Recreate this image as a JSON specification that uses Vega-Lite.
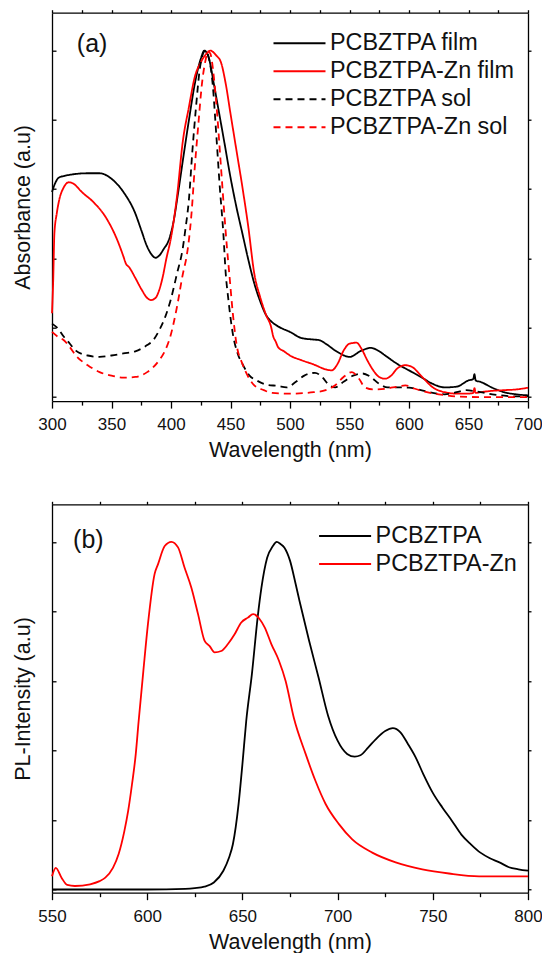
{
  "$schema": "https://vega.github.io/schema/vega-lite/v6.json",
  "autosize": {"type": "pad"},
  "padding": {"left": 12, "top": 8.7, "right": 0, "bottom": 0},
  "background": "white",
  "spacing": 102.6,
  "bounds": "flush",
  "resolve": {
    "scale": {"color": "independent", "strokeDash": "independent", "x": "independent", "y": "independent"},
    "legend": {"color": "independent", "strokeDash": "independent"}
  },
  "config": {
    "font": "Liberation Sans",
    "view": {"stroke": null},
    "axis": {
      "grid": false,
      "domainColor": "#000000",
      "domainWidth": 1.3,
      "tickColor": "#000000",
      "tickWidth": 1.3,
      "labelColor": "#111111",
      "titleColor": "#111111",
      "labelFont": "Liberation Sans",
      "titleFont": "Liberation Sans",
      "labelFontSize": 17,
      "titleFontSize": 21.5,
      "titleFontWeight": "normal",
      "labelFlush": false,
      "labelOverlap": false
    },
    "legend": {
      "labelFont": "Liberation Sans",
      "labelFontSize": 23.4,
      "labelColor": "#111111",
      "labelLimit": 400,
      "padding": 0,
      "rowPadding": 2,
      "labelOffset": 16.5,
      "symbolType": "M-2,0H2",
      "symbolSize": 676,
      "symbolStrokeWidth": 1.9,
      "symbolFillColor": "transparent",
      "title": null
    }
  },
  "datasets": {
    "abs": [
      {"s": "PCBZTPA film", "x": 300, "y": 2.96}, {"s": "PCBZTPA film", "x": 303, "y": 3.10}, {"s": "PCBZTPA film", "x": 306, "y": 3.17}, {"s": "PCBZTPA film", "x": 310, "y": 3.19},
      {"s": "PCBZTPA film", "x": 320, "y": 3.22}, {"s": "PCBZTPA film", "x": 330, "y": 3.23}, {"s": "PCBZTPA film", "x": 340, "y": 3.23}, {"s": "PCBZTPA film", "x": 350, "y": 3.15},
      {"s": "PCBZTPA film", "x": 360, "y": 2.96}, {"s": "PCBZTPA film", "x": 370, "y": 2.65}, {"s": "PCBZTPA film", "x": 375, "y": 2.41}, {"s": "PCBZTPA film", "x": 380, "y": 2.17},
      {"s": "PCBZTPA film", "x": 384, "y": 2.05}, {"s": "PCBZTPA film", "x": 387, "y": 2.01}, {"s": "PCBZTPA film", "x": 390, "y": 2.04}, {"s": "PCBZTPA film", "x": 394, "y": 2.14},
      {"s": "PCBZTPA film", "x": 398, "y": 2.26}, {"s": "PCBZTPA film", "x": 402, "y": 2.52}, {"s": "PCBZTPA film", "x": 406, "y": 2.95}, {"s": "PCBZTPA film", "x": 410, "y": 3.42}, {"s": "PCBZTPA film", "x": 415, "y": 3.99},
      {"s": "PCBZTPA film", "x": 420, "y": 4.52}, {"s": "PCBZTPA film", "x": 425, "y": 4.88}, {"s": "PCBZTPA film", "x": 428, "y": 5.0}, {"s": "PCBZTPA film", "x": 432, "y": 4.88},
      {"s": "PCBZTPA film", "x": 436, "y": 4.52}, {"s": "PCBZTPA film", "x": 440, "y": 4.14}, {"s": "PCBZTPA film", "x": 445, "y": 3.66}, {"s": "PCBZTPA film", "x": 450, "y": 3.17},
      {"s": "PCBZTPA film", "x": 455, "y": 2.74}, {"s": "PCBZTPA film", "x": 460, "y": 2.36}, {"s": "PCBZTPA film", "x": 465, "y": 1.98}, {"s": "PCBZTPA film", "x": 470, "y": 1.64},
      {"s": "PCBZTPA film", "x": 475, "y": 1.38}, {"s": "PCBZTPA film", "x": 480, "y": 1.18}, {"s": "PCBZTPA film", "x": 485, "y": 1.08}, {"s": "PCBZTPA film", "x": 490, "y": 1.02},
      {"s": "PCBZTPA film", "x": 500, "y": 0.94}, {"s": "PCBZTPA film", "x": 510, "y": 0.85}, {"s": "PCBZTPA film", "x": 520, "y": 0.83}, {"s": "PCBZTPA film", "x": 525, "y": 0.82},
      {"s": "PCBZTPA film", "x": 530, "y": 0.77}, {"s": "PCBZTPA film", "x": 540, "y": 0.65}, {"s": "PCBZTPA film", "x": 550, "y": 0.58}, {"s": "PCBZTPA film", "x": 560, "y": 0.67},
      {"s": "PCBZTPA film", "x": 568, "y": 0.71}, {"s": "PCBZTPA film", "x": 575, "y": 0.66}, {"s": "PCBZTPA film", "x": 580, "y": 0.60}, {"s": "PCBZTPA film", "x": 590, "y": 0.48},
      {"s": "PCBZTPA film", "x": 600, "y": 0.385}, {"s": "PCBZTPA film", "x": 610, "y": 0.29}, {"s": "PCBZTPA film", "x": 620, "y": 0.19}, {"s": "PCBZTPA film", "x": 630, "y": 0.14},
      {"s": "PCBZTPA film", "x": 640, "y": 0.15}, {"s": "PCBZTPA film", "x": 650, "y": 0.24}, {"s": "PCBZTPA film", "x": 654, "y": 0.26}, {"s": "PCBZTPA film", "x": 655, "y": 0.33},
      {"s": "PCBZTPA film", "x": 656, "y": 0.24}, {"s": "PCBZTPA film", "x": 660, "y": 0.22}, {"s": "PCBZTPA film", "x": 670, "y": 0.135}, {"s": "PCBZTPA film", "x": 680, "y": 0.07},
      {"s": "PCBZTPA film", "x": 690, "y": 0.04}, {"s": "PCBZTPA film", "x": 700, "y": 0.025},

      {"s": "PCBZTPA-Zn film", "x": 300, "y": 1.21}, {"s": "PCBZTPA-Zn film", "x": 301, "y": 1.68}, {"s": "PCBZTPA-Zn film", "x": 302, "y": 2.36}, {"s": "PCBZTPA-Zn film", "x": 304, "y": 2.65},
      {"s": "PCBZTPA-Zn film", "x": 306, "y": 2.84}, {"s": "PCBZTPA-Zn film", "x": 310, "y": 3.03}, {"s": "PCBZTPA-Zn film", "x": 314, "y": 3.10}, {"s": "PCBZTPA-Zn film", "x": 318, "y": 3.08},
      {"s": "PCBZTPA-Zn film", "x": 325, "y": 2.96}, {"s": "PCBZTPA-Zn film", "x": 335, "y": 2.81}, {"s": "PCBZTPA-Zn film", "x": 345, "y": 2.60}, {"s": "PCBZTPA-Zn film", "x": 355, "y": 2.26},
      {"s": "PCBZTPA-Zn film", "x": 360, "y": 2.03}, {"s": "PCBZTPA-Zn film", "x": 362, "y": 1.93}, {"s": "PCBZTPA-Zn film", "x": 365, "y": 1.87}, {"s": "PCBZTPA-Zn film", "x": 370, "y": 1.72},
      {"s": "PCBZTPA-Zn film", "x": 375, "y": 1.56}, {"s": "PCBZTPA-Zn film", "x": 380, "y": 1.43}, {"s": "PCBZTPA-Zn film", "x": 383, "y": 1.40}, {"s": "PCBZTPA-Zn film", "x": 387, "y": 1.43},
      {"s": "PCBZTPA-Zn film", "x": 390, "y": 1.54}, {"s": "PCBZTPA-Zn film", "x": 393, "y": 1.73}, {"s": "PCBZTPA-Zn film", "x": 396, "y": 1.99}, {"s": "PCBZTPA-Zn film", "x": 400, "y": 2.30},
      {"s": "PCBZTPA-Zn film", "x": 405, "y": 2.89}, {"s": "PCBZTPA-Zn film", "x": 410, "y": 3.70}, {"s": "PCBZTPA-Zn film", "x": 415, "y": 4.18}, {"s": "PCBZTPA-Zn film", "x": 420, "y": 4.62},
      {"s": "PCBZTPA-Zn film", "x": 425, "y": 4.83}, {"s": "PCBZTPA-Zn film", "x": 430, "y": 4.96}, {"s": "PCBZTPA-Zn film", "x": 433, "y": 5.0}, {"s": "PCBZTPA-Zn film", "x": 438, "y": 4.93},
      {"s": "PCBZTPA-Zn film", "x": 442, "y": 4.83}, {"s": "PCBZTPA-Zn film", "x": 446, "y": 4.52}, {"s": "PCBZTPA-Zn film", "x": 450, "y": 4.09}, {"s": "PCBZTPA-Zn film", "x": 455, "y": 3.56},
      {"s": "PCBZTPA-Zn film", "x": 460, "y": 3.03}, {"s": "PCBZTPA-Zn film", "x": 465, "y": 2.45}, {"s": "PCBZTPA-Zn film", "x": 470, "y": 1.78}, {"s": "PCBZTPA-Zn film", "x": 475, "y": 1.44},
      {"s": "PCBZTPA-Zn film", "x": 480, "y": 1.18}, {"s": "PCBZTPA-Zn film", "x": 484, "y": 1.02}, {"s": "PCBZTPA-Zn film", "x": 486, "y": 0.87}, {"s": "PCBZTPA-Zn film", "x": 488, "y": 0.80},
      {"s": "PCBZTPA-Zn film", "x": 490, "y": 0.72}, {"s": "PCBZTPA-Zn film", "x": 495, "y": 0.66}, {"s": "PCBZTPA-Zn film", "x": 500, "y": 0.60}, {"s": "PCBZTPA-Zn film", "x": 510, "y": 0.53},
      {"s": "PCBZTPA-Zn film", "x": 520, "y": 0.47}, {"s": "PCBZTPA-Zn film", "x": 530, "y": 0.40}, {"s": "PCBZTPA-Zn film", "x": 535, "y": 0.385}, {"s": "PCBZTPA-Zn film", "x": 540, "y": 0.48},
      {"s": "PCBZTPA-Zn film", "x": 545, "y": 0.67}, {"s": "PCBZTPA-Zn film", "x": 550, "y": 0.77}, {"s": "PCBZTPA-Zn film", "x": 556, "y": 0.785}, {"s": "PCBZTPA-Zn film", "x": 560, "y": 0.70},
      {"s": "PCBZTPA-Zn film", "x": 565, "y": 0.53}, {"s": "PCBZTPA-Zn film", "x": 570, "y": 0.385}, {"s": "PCBZTPA-Zn film", "x": 575, "y": 0.29}, {"s": "PCBZTPA-Zn film", "x": 580, "y": 0.265},
      {"s": "PCBZTPA-Zn film", "x": 585, "y": 0.31}, {"s": "PCBZTPA-Zn film", "x": 590, "y": 0.41}, {"s": "PCBZTPA-Zn film", "x": 597, "y": 0.46}, {"s": "PCBZTPA-Zn film", "x": 603, "y": 0.43},
      {"s": "PCBZTPA-Zn film", "x": 610, "y": 0.31}, {"s": "PCBZTPA-Zn film", "x": 620, "y": 0.14}, {"s": "PCBZTPA-Zn film", "x": 630, "y": 0.07}, {"s": "PCBZTPA-Zn film", "x": 640, "y": 0.05},
      {"s": "PCBZTPA-Zn film", "x": 650, "y": 0.05}, {"s": "PCBZTPA-Zn film", "x": 654, "y": 0.06}, {"s": "PCBZTPA-Zn film", "x": 655, "y": 0.13}, {"s": "PCBZTPA-Zn film", "x": 656, "y": 0.06},
      {"s": "PCBZTPA-Zn film", "x": 660, "y": 0.07}, {"s": "PCBZTPA-Zn film", "x": 670, "y": 0.09}, {"s": "PCBZTPA-Zn film", "x": 680, "y": 0.10}, {"s": "PCBZTPA-Zn film", "x": 690, "y": 0.11},
      {"s": "PCBZTPA-Zn film", "x": 700, "y": 0.135},

      {"s": "PCBZTPA sol", "x": 300, "y": 1.06}, {"s": "PCBZTPA sol", "x": 305, "y": 0.99}, {"s": "PCBZTPA sol", "x": 310, "y": 0.87}, {"s": "PCBZTPA sol", "x": 315, "y": 0.77},
      {"s": "PCBZTPA sol", "x": 320, "y": 0.67}, {"s": "PCBZTPA sol", "x": 330, "y": 0.60}, {"s": "PCBZTPA sol", "x": 340, "y": 0.58}, {"s": "PCBZTPA sol", "x": 350, "y": 0.60},
      {"s": "PCBZTPA sol", "x": 360, "y": 0.63}, {"s": "PCBZTPA sol", "x": 370, "y": 0.66}, {"s": "PCBZTPA sol", "x": 380, "y": 0.75}, {"s": "PCBZTPA sol", "x": 385, "y": 0.82},
      {"s": "PCBZTPA sol", "x": 390, "y": 0.96}, {"s": "PCBZTPA sol", "x": 395, "y": 1.15}, {"s": "PCBZTPA sol", "x": 400, "y": 1.42}, {"s": "PCBZTPA sol", "x": 405, "y": 1.78},
      {"s": "PCBZTPA sol", "x": 410, "y": 2.16}, {"s": "PCBZTPA sol", "x": 412, "y": 2.41}, {"s": "PCBZTPA sol", "x": 415, "y": 2.84}, {"s": "PCBZTPA sol", "x": 418, "y": 3.56},
      {"s": "PCBZTPA sol", "x": 421, "y": 4.18}, {"s": "PCBZTPA sol", "x": 424, "y": 4.71}, {"s": "PCBZTPA sol", "x": 427, "y": 4.96}, {"s": "PCBZTPA sol", "x": 429, "y": 5.0},
      {"s": "PCBZTPA sol", "x": 432, "y": 4.88}, {"s": "PCBZTPA sol", "x": 435, "y": 4.52}, {"s": "PCBZTPA sol", "x": 438, "y": 3.80}, {"s": "PCBZTPA sol", "x": 441, "y": 3.03},
      {"s": "PCBZTPA sol", "x": 444, "y": 2.36}, {"s": "PCBZTPA sol", "x": 446, "y": 1.78}, {"s": "PCBZTPA sol", "x": 448, "y": 1.44}, {"s": "PCBZTPA sol", "x": 452, "y": 0.91},
      {"s": "PCBZTPA sol", "x": 456, "y": 0.63}, {"s": "PCBZTPA sol", "x": 460, "y": 0.48}, {"s": "PCBZTPA sol", "x": 466, "y": 0.31}, {"s": "PCBZTPA sol", "x": 472, "y": 0.24},
      {"s": "PCBZTPA sol", "x": 480, "y": 0.18}, {"s": "PCBZTPA sol", "x": 490, "y": 0.16}, {"s": "PCBZTPA sol", "x": 497, "y": 0.14}, {"s": "PCBZTPA sol", "x": 505, "y": 0.22},
      {"s": "PCBZTPA sol", "x": 512, "y": 0.31}, {"s": "PCBZTPA sol", "x": 521, "y": 0.35}, {"s": "PCBZTPA sol", "x": 527, "y": 0.29}, {"s": "PCBZTPA sol", "x": 533, "y": 0.17},
      {"s": "PCBZTPA sol", "x": 538, "y": 0.14}, {"s": "PCBZTPA sol", "x": 545, "y": 0.22}, {"s": "PCBZTPA sol", "x": 553, "y": 0.31}, {"s": "PCBZTPA sol", "x": 561, "y": 0.34},
      {"s": "PCBZTPA sol", "x": 567, "y": 0.30}, {"s": "PCBZTPA sol", "x": 575, "y": 0.19}, {"s": "PCBZTPA sol", "x": 582, "y": 0.14}, {"s": "PCBZTPA sol", "x": 590, "y": 0.14},
      {"s": "PCBZTPA sol", "x": 600, "y": 0.135}, {"s": "PCBZTPA sol", "x": 610, "y": 0.10}, {"s": "PCBZTPA sol", "x": 620, "y": 0.06}, {"s": "PCBZTPA sol", "x": 630, "y": 0.04},
      {"s": "PCBZTPA sol", "x": 640, "y": 0.07}, {"s": "PCBZTPA sol", "x": 648, "y": 0.10}, {"s": "PCBZTPA sol", "x": 660, "y": 0.07}, {"s": "PCBZTPA sol", "x": 670, "y": 0.04},
      {"s": "PCBZTPA sol", "x": 680, "y": 0.02}, {"s": "PCBZTPA sol", "x": 690, "y": 0.01}, {"s": "PCBZTPA sol", "x": 700, "y": 0.01},

      {"s": "PCBZTPA-Zn sol", "x": 300, "y": 0.94}, {"s": "PCBZTPA-Zn sol", "x": 305, "y": 0.87}, {"s": "PCBZTPA-Zn sol", "x": 310, "y": 0.82}, {"s": "PCBZTPA-Zn sol", "x": 315, "y": 0.72},
      {"s": "PCBZTPA-Zn sol", "x": 320, "y": 0.60}, {"s": "PCBZTPA-Zn sol", "x": 330, "y": 0.46}, {"s": "PCBZTPA-Zn sol", "x": 340, "y": 0.36}, {"s": "PCBZTPA-Zn sol", "x": 350, "y": 0.31},
      {"s": "PCBZTPA-Zn sol", "x": 360, "y": 0.28}, {"s": "PCBZTPA-Zn sol", "x": 370, "y": 0.29}, {"s": "PCBZTPA-Zn sol", "x": 380, "y": 0.36}, {"s": "PCBZTPA-Zn sol", "x": 390, "y": 0.53},
      {"s": "PCBZTPA-Zn sol", "x": 395, "y": 0.67}, {"s": "PCBZTPA-Zn sol", "x": 400, "y": 0.91}, {"s": "PCBZTPA-Zn sol", "x": 405, "y": 1.30}, {"s": "PCBZTPA-Zn sol", "x": 410, "y": 1.78},
      {"s": "PCBZTPA-Zn sol", "x": 413, "y": 2.02}, {"s": "PCBZTPA-Zn sol", "x": 415, "y": 2.26}, {"s": "PCBZTPA-Zn sol", "x": 417, "y": 2.60}, {"s": "PCBZTPA-Zn sol", "x": 420, "y": 3.32},
      {"s": "PCBZTPA-Zn sol", "x": 423, "y": 3.94}, {"s": "PCBZTPA-Zn sol", "x": 426, "y": 4.52}, {"s": "PCBZTPA-Zn sol", "x": 429, "y": 4.86}, {"s": "PCBZTPA-Zn sol", "x": 431, "y": 4.99},
      {"s": "PCBZTPA-Zn sol", "x": 433, "y": 4.96}, {"s": "PCBZTPA-Zn sol", "x": 436, "y": 4.62}, {"s": "PCBZTPA-Zn sol", "x": 439, "y": 4.04}, {"s": "PCBZTPA-Zn sol", "x": 442, "y": 3.32},
      {"s": "PCBZTPA-Zn sol", "x": 445, "y": 2.60}, {"s": "PCBZTPA-Zn sol", "x": 447, "y": 2.16}, {"s": "PCBZTPA-Zn sol", "x": 449, "y": 1.78}, {"s": "PCBZTPA-Zn sol", "x": 452, "y": 1.20},
      {"s": "PCBZTPA-Zn sol", "x": 455, "y": 0.77}, {"s": "PCBZTPA-Zn sol", "x": 460, "y": 0.48}, {"s": "PCBZTPA-Zn sol", "x": 465, "y": 0.29}, {"s": "PCBZTPA-Zn sol", "x": 470, "y": 0.17},
      {"s": "PCBZTPA-Zn sol", "x": 478, "y": 0.10}, {"s": "PCBZTPA-Zn sol", "x": 485, "y": 0.06}, {"s": "PCBZTPA-Zn sol", "x": 500, "y": 0.05}, {"s": "PCBZTPA-Zn sol", "x": 520, "y": 0.07},
      {"s": "PCBZTPA-Zn sol", "x": 530, "y": 0.10}, {"s": "PCBZTPA-Zn sol", "x": 538, "y": 0.17}, {"s": "PCBZTPA-Zn sol", "x": 545, "y": 0.29}, {"s": "PCBZTPA-Zn sol", "x": 552, "y": 0.36},
      {"s": "PCBZTPA-Zn sol", "x": 558, "y": 0.265}, {"s": "PCBZTPA-Zn sol", "x": 563, "y": 0.14}, {"s": "PCBZTPA-Zn sol", "x": 570, "y": 0.11}, {"s": "PCBZTPA-Zn sol", "x": 580, "y": 0.12},
      {"s": "PCBZTPA-Zn sol", "x": 590, "y": 0.15}, {"s": "PCBZTPA-Zn sol", "x": 597, "y": 0.17}, {"s": "PCBZTPA-Zn sol", "x": 605, "y": 0.12}, {"s": "PCBZTPA-Zn sol", "x": 615, "y": 0.07},
      {"s": "PCBZTPA-Zn sol", "x": 625, "y": 0.04}, {"s": "PCBZTPA-Zn sol", "x": 640, "y": 0.01}, {"s": "PCBZTPA-Zn sol", "x": 660, "y": 0.0}, {"s": "PCBZTPA-Zn sol", "x": 700, "y": 0.0}
    ],
    "pl": [
      {"s": "PCBZTPA", "x": 550, "y": 0.0}, {"s": "PCBZTPA", "x": 600, "y": 0.0}, {"s": "PCBZTPA", "x": 620, "y": 0.01}, {"s": "PCBZTPA", "x": 625, "y": 0.02},
      {"s": "PCBZTPA", "x": 630, "y": 0.04}, {"s": "PCBZTPA", "x": 635, "y": 0.10}, {"s": "PCBZTPA", "x": 640, "y": 0.27}, {"s": "PCBZTPA", "x": 643, "y": 0.46},
      {"s": "PCBZTPA", "x": 645, "y": 0.65}, {"s": "PCBZTPA", "x": 648, "y": 1.23}, {"s": "PCBZTPA", "x": 650, "y": 1.80}, {"s": "PCBZTPA", "x": 652, "y": 2.42},
      {"s": "PCBZTPA", "x": 655, "y": 3.10}, {"s": "PCBZTPA", "x": 658, "y": 3.91}, {"s": "PCBZTPA", "x": 660, "y": 4.34}, {"s": "PCBZTPA", "x": 663, "y": 4.77},
      {"s": "PCBZTPA", "x": 666, "y": 4.94}, {"s": "PCBZTPA", "x": 668, "y": 5.0}, {"s": "PCBZTPA", "x": 670, "y": 4.97}, {"s": "PCBZTPA", "x": 672, "y": 4.92},
      {"s": "PCBZTPA", "x": 675, "y": 4.73}, {"s": "PCBZTPA", "x": 678, "y": 4.39}, {"s": "PCBZTPA", "x": 680, "y": 4.15}, {"s": "PCBZTPA", "x": 685, "y": 3.58},
      {"s": "PCBZTPA", "x": 690, "y": 3.05}, {"s": "PCBZTPA", "x": 695, "y": 2.50}, {"s": "PCBZTPA", "x": 700, "y": 2.14}, {"s": "PCBZTPA", "x": 705, "y": 1.95},
      {"s": "PCBZTPA", "x": 709, "y": 1.91}, {"s": "PCBZTPA", "x": 712, "y": 1.93}, {"s": "PCBZTPA", "x": 716, "y": 2.04}, {"s": "PCBZTPA", "x": 720, "y": 2.16},
      {"s": "PCBZTPA", "x": 725, "y": 2.28}, {"s": "PCBZTPA", "x": 729, "y": 2.32}, {"s": "PCBZTPA", "x": 733, "y": 2.26}, {"s": "PCBZTPA", "x": 737, "y": 2.09},
      {"s": "PCBZTPA", "x": 741, "y": 1.90}, {"s": "PCBZTPA", "x": 745, "y": 1.66}, {"s": "PCBZTPA", "x": 750, "y": 1.39}, {"s": "PCBZTPA", "x": 755, "y": 1.18},
      {"s": "PCBZTPA", "x": 760, "y": 0.99}, {"s": "PCBZTPA", "x": 765, "y": 0.79}, {"s": "PCBZTPA", "x": 770, "y": 0.65}, {"s": "PCBZTPA", "x": 775, "y": 0.53},
      {"s": "PCBZTPA", "x": 780, "y": 0.45}, {"s": "PCBZTPA", "x": 785, "y": 0.39}, {"s": "PCBZTPA", "x": 790, "y": 0.32}, {"s": "PCBZTPA", "x": 795, "y": 0.29},
      {"s": "PCBZTPA", "x": 800, "y": 0.27},

      {"s": "PCBZTPA-Zn", "x": 550, "y": 0.19}, {"s": "PCBZTPA-Zn", "x": 552, "y": 0.31}, {"s": "PCBZTPA-Zn", "x": 555, "y": 0.17}, {"s": "PCBZTPA-Zn", "x": 558, "y": 0.065},
      {"s": "PCBZTPA-Zn", "x": 562, "y": 0.05}, {"s": "PCBZTPA-Zn", "x": 570, "y": 0.075}, {"s": "PCBZTPA-Zn", "x": 575, "y": 0.12}, {"s": "PCBZTPA-Zn", "x": 578, "y": 0.17},
      {"s": "PCBZTPA-Zn", "x": 582, "y": 0.31}, {"s": "PCBZTPA-Zn", "x": 585, "y": 0.51}, {"s": "PCBZTPA-Zn", "x": 588, "y": 0.84}, {"s": "PCBZTPA-Zn", "x": 590, "y": 1.13},
      {"s": "PCBZTPA-Zn", "x": 592, "y": 1.51}, {"s": "PCBZTPA-Zn", "x": 594, "y": 1.95}, {"s": "PCBZTPA-Zn", "x": 595.5, "y": 2.42}, {"s": "PCBZTPA-Zn", "x": 598, "y": 3.15},
      {"s": "PCBZTPA-Zn", "x": 600.4, "y": 3.82}, {"s": "PCBZTPA-Zn", "x": 603.9, "y": 4.54}, {"s": "PCBZTPA-Zn", "x": 605.7, "y": 4.68}, {"s": "PCBZTPA-Zn", "x": 609.2, "y": 4.94},
      {"s": "PCBZTPA-Zn", "x": 612.7, "y": 5.0}, {"s": "PCBZTPA-Zn", "x": 616.2, "y": 4.92}, {"s": "PCBZTPA-Zn", "x": 619.6, "y": 4.63}, {"s": "PCBZTPA-Zn", "x": 623.2, "y": 4.34},
      {"s": "PCBZTPA-Zn", "x": 626.7, "y": 3.96}, {"s": "PCBZTPA-Zn", "x": 630.1, "y": 3.58}, {"s": "PCBZTPA-Zn", "x": 632.8, "y": 3.50}, {"s": "PCBZTPA-Zn", "x": 635.4, "y": 3.41},
      {"s": "PCBZTPA-Zn", "x": 638.9, "y": 3.43}, {"s": "PCBZTPA-Zn", "x": 642.4, "y": 3.53}, {"s": "PCBZTPA-Zn", "x": 645.9, "y": 3.67}, {"s": "PCBZTPA-Zn", "x": 649.4, "y": 3.84},
      {"s": "PCBZTPA-Zn", "x": 652.9, "y": 3.91}, {"s": "PCBZTPA-Zn", "x": 655.6, "y": 3.96}, {"s": "PCBZTPA-Zn", "x": 659, "y": 3.89}, {"s": "PCBZTPA-Zn", "x": 661.7, "y": 3.77},
      {"s": "PCBZTPA-Zn", "x": 665.2, "y": 3.53}, {"s": "PCBZTPA-Zn", "x": 669.2, "y": 3.29}, {"s": "PCBZTPA-Zn", "x": 672.7, "y": 3.0}, {"s": "PCBZTPA-Zn", "x": 677, "y": 2.47},
      {"s": "PCBZTPA-Zn", "x": 683.2, "y": 1.95}, {"s": "PCBZTPA-Zn", "x": 688.4, "y": 1.56}, {"s": "PCBZTPA-Zn", "x": 693.7, "y": 1.23}, {"s": "PCBZTPA-Zn", "x": 700.7, "y": 0.94},
      {"s": "PCBZTPA-Zn", "x": 707.7, "y": 0.72}, {"s": "PCBZTPA-Zn", "x": 718.2, "y": 0.53}, {"s": "PCBZTPA-Zn", "x": 730.5, "y": 0.39}, {"s": "PCBZTPA-Zn", "x": 744.5, "y": 0.29},
      {"s": "PCBZTPA-Zn", "x": 758.5, "y": 0.23}, {"s": "PCBZTPA-Zn", "x": 774.3, "y": 0.19}, {"s": "PCBZTPA-Zn", "x": 788, "y": 0.19}, {"s": "PCBZTPA-Zn", "x": 800, "y": 0.19}
    ]
  },
  "vconcat": [
    {
      "width": 476,
      "height": 388.4,
      "layer": [
        {
          "data": {"name": "abs"},
          "mark": {"type": "line", "strokeWidth": 1.8, "interpolate": "monotone"},
          "encoding": {
            "x": {"field": "x", "type": "quantitative",
              "scale": {"domain": [300, 700], "nice": false, "zero": false},
              "axis": {"orient": "bottom", "title": "Wavelength (nm)",
                "values": [300, 325, 350, 375, 400, 425, 450, 475, 500, 525, 550, 575, 600, 625, 650, 675, 700],
                "labelExpr": "datum.value % 50 === 0 ? datum.label : ''",
                "tickSize": {"condition": {"test": "datum.value % 50 === 0", "value": 7}, "value": 4},
                "labelPadding": 8.5, "titlePadding": 7}},
            "y": {"field": "y", "type": "quantitative",
              "scale": {"domain": [-0.058, 5.547], "nice": false, "zero": false},
              "axis": {"orient": "left", "title": "Absorbance (a.u)", "values": [0, 1, 2, 3, 4, 5],
                "labels": false, "tickSize": -4, "titlePadding": 17}},
            "color": {"field": "s", "type": "nominal",
              "scale": {"domain": ["PCBZTPA film", "PCBZTPA-Zn film", "PCBZTPA sol", "PCBZTPA-Zn sol"], "range": ["#000000", "#ff0000", "#000000", "#ff0000"]},
              "legend": {"orient": "none", "legendX": 233.5, "legendY": 16.5, "title": null}},
            "strokeDash": {"field": "s", "type": "nominal",
              "scale": {"domain": ["PCBZTPA film", "PCBZTPA-Zn film", "PCBZTPA sol", "PCBZTPA-Zn sol"], "range": [[1, 0], [1, 0], [7, 5], [7, 5]]},
              "legend": {"orient": "none", "legendX": 233.5, "legendY": 16.5, "title": null}}
          }
        },
        {
          "data": {"values": [{"t": "(a)", "x": 333.7, "y": 5.1}]},
          "mark": {"type": "text", "fontSize": 25, "font": "Liberation Sans", "color": "#111111", "align": "center", "baseline": "middle"},
          "encoding": {
            "text": {"field": "t"},
            "x": {"field": "x", "type": "quantitative",
              "scale": {"domain": [300, 700], "nice": false, "zero": false},
              "axis": {"orient": "top", "title": null, "labels": false, "tickSize": 3,
                "values": [300, 325, 350, 375, 400, 425, 450, 475, 500, 525, 550, 575, 600, 625, 650, 675, 700]}},
            "y": {"field": "y", "type": "quantitative",
              "scale": {"domain": [-0.058, 5.547], "nice": false, "zero": false},
              "axis": {"orient": "right", "title": null, "labels": false, "tickSize": 3, "values": [0, 1, 2, 3, 4, 5]}}
          }
        }
      ],
      "resolve": {"axis": {"x": "independent", "y": "independent"}}
    },
    {
      "width": 476,
      "height": 388.4,
      "layer": [
        {
          "data": {"name": "pl"},
          "mark": {"type": "line", "strokeWidth": 1.8, "interpolate": "monotone"},
          "encoding": {
            "x": {"field": "x", "type": "quantitative",
              "scale": {"domain": [550, 800], "nice": false, "zero": false},
              "axis": {"orient": "bottom", "title": "Wavelength (nm)",
                "values": [550, 575, 600, 625, 650, 675, 700, 725, 750, 775, 800],
                "labelExpr": "datum.value % 50 === 0 ? datum.label : ''",
                "tickSize": {"condition": {"test": "datum.value % 50 === 0", "value": 7}, "value": 4},
                "labelPadding": 8.5, "titlePadding": 7}},
            "y": {"field": "y", "type": "quantitative",
              "scale": {"domain": [-0.046, 5.54], "nice": false, "zero": false},
              "axis": {"orient": "left", "title": "PL-Intensity (a.u)", "values": [0, 1, 2, 3, 4, 5],
                "labels": false, "tickSize": -4, "titlePadding": 17}},
            "color": {"field": "s", "type": "nominal",
              "scale": {"domain": ["PCBZTPA", "PCBZTPA-Zn"], "range": ["#000000", "#ff0000"]},
              "legend": {"orient": "none", "legendX": 279.1, "legendY": 17.7, "title": null}}
          }
        },
        {
          "data": {"values": [{"t": "(b)", "x": 569.1, "y": 5.03}]},
          "mark": {"type": "text", "fontSize": 25, "font": "Liberation Sans", "color": "#111111", "align": "center", "baseline": "middle"},
          "encoding": {
            "text": {"field": "t"},
            "x": {"field": "x", "type": "quantitative",
              "scale": {"domain": [550, 800], "nice": false, "zero": false},
              "axis": {"orient": "top", "title": null, "labels": false, "tickSize": 3,
                "values": [550, 575, 600, 625, 650, 675, 700, 725, 750, 775, 800]}},
            "y": {"field": "y", "type": "quantitative",
              "scale": {"domain": [-0.046, 5.54], "nice": false, "zero": false},
              "axis": {"orient": "right", "title": null, "labels": false, "tickSize": 3, "values": [0, 1, 2, 3, 4, 5]}}
          }
        }
      ],
      "resolve": {"axis": {"x": "independent", "y": "independent"}}
    }
  ]
}
